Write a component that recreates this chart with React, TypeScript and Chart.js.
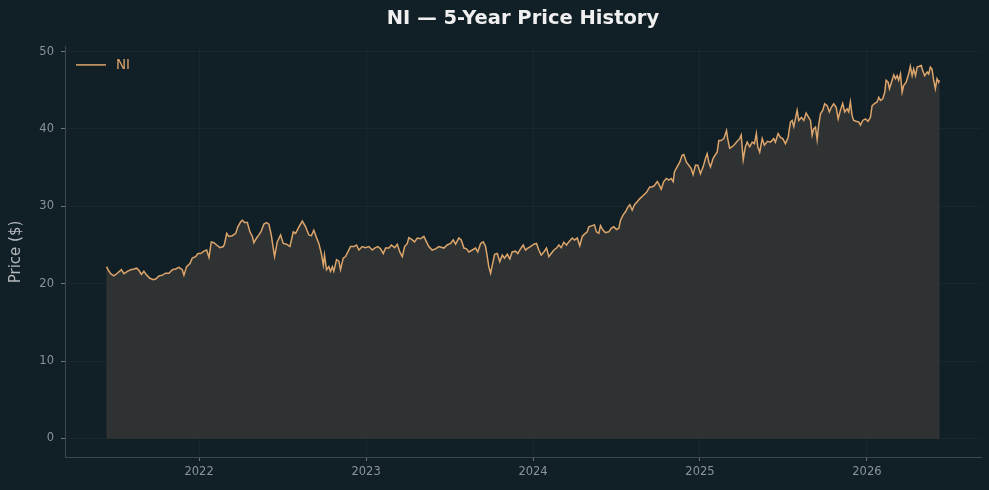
import { useEffect, useRef } from "react";
import { Chart, registerables } from "chart.js";

Chart.register(...registerables);

const TICKER = "NI";
const TITLE = "NI — 5-Year Price History";
const Y_LABEL = "Price ($)";
const YEAR_TICKS = [2022, 2023, 2024, 2025, 2026];
const PRICE_TICKS = [0, 10, 20, 30, 40, 50];

// dates as decimal years
const dates = [
  2021.446, 2021.454, 2021.470, 2021.490, 2021.510, 2021.534, 2021.550, 2021.570, 2021.590, 2021.610,
  2021.626, 2021.640, 2021.654, 2021.669, 2021.686, 2021.705, 2021.726, 2021.740, 2021.759, 2021.780,
  2021.799, 2021.819, 2021.840, 2021.859, 2021.879, 2021.899, 2021.909, 2021.925, 2021.945, 2021.959,
  2021.979, 2021.993, 2022.009, 2022.029, 2022.045, 2022.059, 2022.073, 2022.089, 2022.105, 2022.125,
  2022.145, 2022.153, 2022.165, 2022.178, 2022.199, 2022.219, 2022.232, 2022.249, 2022.259, 2022.272,
  2022.289, 2022.304, 2022.319, 2022.328, 2022.344, 2022.358, 2022.372, 2022.388, 2022.404, 2022.418,
  2022.432, 2022.444, 2022.452,
  2022.468, 2022.488, 2022.504, 2022.524, 2022.544, 2022.564, 2022.578, 2022.598, 2022.618, 2022.638,
  2022.657, 2022.672, 2022.687, 2022.704, 2022.717, 2022.732, 2022.744, 2022.751, 2022.763, 2022.777,
  2022.787, 2022.798, 2022.807, 2022.823, 2022.837, 2022.847, 2022.863, 2022.877, 2022.891, 2022.907,
  2022.927, 2022.943, 2022.957, 2022.977, 2022.997, 2023.017, 2023.037, 2023.051, 2023.071, 2023.087,
  2023.103, 2023.117, 2023.137, 2023.151, 2023.171, 2023.187, 2023.202, 2023.217, 2023.231, 2023.247,
  2023.256, 2023.277, 2023.290, 2023.307, 2023.326, 2023.346, 2023.362, 2023.376, 2023.396, 2023.416,
  2023.436,
  2023.466, 2023.486, 2023.506, 2023.522, 2023.536, 2023.556, 2023.570, 2023.586, 2023.602, 2023.616,
  2023.636, 2023.656, 2023.669, 2023.686, 2023.702, 2023.716, 2023.726, 2023.735, 2023.746, 2023.756,
  2023.770, 2023.786, 2023.801, 2023.816, 2023.829, 2023.846, 2023.861, 2023.875, 2023.895, 2023.909,
  2023.925, 2023.941, 2023.955, 2023.969, 2023.985, 2024.005, 2024.021, 2024.035, 2024.049, 2024.065,
  2024.081, 2024.095, 2024.109, 2024.125, 2024.141, 2024.155, 2024.169, 2024.184, 2024.201, 2024.214,
  2024.235, 2024.249, 2024.265, 2024.280, 2024.295, 2024.308, 2024.325, 2024.334, 2024.354, 2024.368,
  2024.380, 2024.394, 2024.404, 2024.420, 2024.434, 2024.454, 2024.468, 2024.484,
  2024.500, 2024.514, 2024.524, 2024.540, 2024.554, 2024.568, 2024.580, 2024.594, 2024.608, 2024.624,
  2024.640, 2024.660, 2024.680, 2024.699, 2024.714, 2024.728, 2024.744, 2024.753, 2024.768, 2024.783,
  2024.799, 2024.813, 2024.828, 2024.840, 2024.847, 2024.863, 2024.879, 2024.893, 2024.903, 2024.919,
  2024.933, 2024.947, 2024.959, 2024.973, 2024.987, 2025.003, 2025.019, 2025.033, 2025.043, 2025.053,
  2025.063, 2025.079, 2025.093, 2025.103, 2025.113, 2025.127, 2025.143, 2025.159, 2025.166, 2025.178,
  2025.193, 2025.207, 2025.223, 2025.238, 2025.247, 2025.259, 2025.272, 2025.283, 2025.298, 2025.313,
  2025.326, 2025.338, 2025.346, 2025.358, 2025.373, 2025.386, 2025.404, 2025.422, 2025.442, 2025.452,
  2025.468, 2025.482, 2025.496, 2025.512, 2025.528, 2025.542, 2025.552, 2025.562, 2025.576, 2025.582,
  2025.592, 2025.608, 2025.622, 2025.636, 2025.651, 2025.662, 2025.672, 2025.681, 2025.692, 2025.702,
  2025.711, 2025.722, 2025.735, 2025.747, 2025.762, 2025.775, 2025.787, 2025.801, 2025.816, 2025.828,
  2025.841, 2025.855, 2025.867, 2025.881, 2025.891, 2025.901, 2025.911, 2025.921, 2025.935, 2025.951,
  2025.961, 2025.975, 2025.991, 2026.007, 2026.021, 2026.031, 2026.047, 2026.061, 2026.071, 2026.081,
  2026.095, 2026.107, 2026.115, 2026.127, 2026.135, 2026.147, 2026.161, 2026.171, 2026.181, 2026.190,
  2026.201, 2026.211, 2026.220, 2026.235, 2026.250, 2026.260, 2026.271, 2026.280, 2026.291, 2026.301,
  2026.314, 2026.326, 2026.334, 2026.346, 2026.361, 2026.370, 2026.380, 2026.390, 2026.400, 2026.410,
  2026.420, 2026.430, 2026.434,
];

const prices = [
  22.2, 21.8, 21.3, 21.0, 21.35, 21.8, 21.3, 21.6, 21.8, 21.9,
  22.0, 21.7, 21.2, 21.6, 21.1, 20.7, 20.5, 20.6, 21.0, 21.1,
  21.35, 21.35, 21.8, 21.9, 22.1, 21.8, 21.1, 22.2, 22.6, 23.3,
  23.5, 23.9, 23.9, 24.2, 24.35, 23.4, 25.4, 25.3, 25.0, 24.65,
  24.8, 25.2, 26.5, 26.1, 26.2, 26.5, 27.35, 28.0, 28.2, 27.9,
  27.9, 26.7, 26.1, 25.3, 25.9, 26.3, 26.8, 27.7, 27.9, 27.7,
  26.3, 24.6, 23.5,
  25.4, 26.3, 25.2, 25.1, 24.8, 26.7, 26.5, 27.35, 28.1, 27.35,
  26.3, 26.2, 26.9, 25.9, 25.2, 23.9, 22.4, 23.7, 21.8, 22.2,
  21.6, 22.2, 21.6, 23.1, 22.9, 21.8, 23.3, 23.5, 24.1, 24.8,
  24.8, 25.0, 24.35, 24.8, 24.65, 24.8, 24.35, 24.6, 24.8, 24.5,
  23.9, 24.6, 24.6, 25.0, 24.65, 25.1, 24.1, 23.5, 24.8, 25.2,
  25.95, 25.65, 25.4, 25.9, 25.8, 26.1, 25.4, 24.8, 24.35, 24.5,
  24.8,
  24.6, 25.0, 25.2, 25.65, 25.1, 25.9, 25.65, 24.6, 24.5, 24.1,
  24.35, 24.6, 24.1, 25.2, 25.4, 24.8, 23.5, 22.2, 21.35, 22.4,
  23.8, 23.9, 22.85, 23.7, 23.3, 23.8, 23.2, 24.1, 24.2, 23.9,
  24.5, 25.0, 24.35, 24.6, 24.8, 25.1, 25.2, 24.35, 23.7, 24.1,
  24.6, 23.5, 23.9, 24.35, 24.6, 25.0, 24.65, 25.35, 25.0, 25.4,
  25.9, 25.65, 25.9, 24.9, 26.1, 26.4, 26.7, 27.35, 27.5, 27.6,
  26.7, 26.5, 27.5, 26.9, 26.6, 26.7, 27.15, 27.35,
  27.0, 27.15, 28.2, 28.9, 29.3, 29.9, 30.2, 29.5, 30.2, 30.6,
  31.0, 31.4, 31.8, 32.5, 32.5, 32.7, 33.2, 32.9, 32.2, 33.2,
  33.6, 33.4, 33.6, 33.2, 34.45, 35.1, 35.7, 36.6, 36.7, 35.7,
  35.3, 34.9, 34.1, 35.3, 35.3, 34.2, 35.1, 36.2, 36.8, 35.7,
  35.1, 36.2, 36.7, 37.0, 38.5, 38.5, 38.75, 39.8, 38.75, 37.5,
  37.7, 38.0, 38.4, 38.75, 39.2, 36.0, 37.7, 38.3, 37.7, 38.3,
  38.1, 39.4, 37.7, 37.0, 38.75, 37.9, 38.4, 38.3, 38.75, 38.3,
  39.4, 38.9, 38.75, 38.1, 38.9, 40.9, 41.1, 40.3, 41.75, 42.4,
  41.1, 41.5, 41.1, 42.05, 41.5, 41.1, 39.2, 40.0, 40.25, 38.6,
  40.5, 41.95, 42.4, 43.25, 43.0, 42.2, 42.8, 43.25, 42.8, 41.3,
  42.4, 43.3, 42.2, 42.6, 42.2, 43.5, 41.75, 41.1, 41.0, 40.9,
  40.5, 41.1, 41.3, 41.0, 41.5, 43.0, 43.3, 43.5, 44.1, 43.7,
  43.9, 44.75, 46.3, 46.05, 45.2, 46.05, 47.0, 46.5, 46.9, 46.3,
  47.1, 44.75, 45.6, 46.05, 47.1, 48.1, 46.9, 47.75, 46.9, 48.0,
  48.1, 48.2, 47.55, 46.9, 47.35, 47.1, 48.0, 47.75, 46.3, 45.2,
  46.5, 46.05, 46.3,
];

const FONT = "'DejaVu Sans', sans-serif";
const BG = "#111f26";
const LINE = "#dca56b";
const FILL = "#2e3233";
const FILL_EDGE = "rgba(220,165,107,0.09)";
const TICK_LABEL = "#8c9499";
const SPINE = "#3d474c";
const GRID = "rgba(255,255,255,0.035)";
const TICK_MARK = "#6e777b";

export default function App() {
  const ref = useRef<HTMLCanvasElement | null>(null);

  useEffect(() => {
    const canvas = ref.current;
    if (!canvas) return;
    const n = Math.min(dates.length, prices.length);
    const points = Array.from({ length: n }, (_, i) => ({ x: dates[i], y: prices[i] }));
    const xSpan = dates[n - 1] - dates[0];
    const xMin = dates[0] - 0.05 * xSpan;
    const xMax = dates[n - 1] + 0.05 * xSpan;
    const yTop = Math.max(...prices.slice(0, n));
    const yMin = -0.05 * yTop;
    const yMax = yTop * 1.05;

    const fillEdge = {
      id: "fillEdge",
      afterDatasetsDraw(chart: any) {
        const { ctx, scales } = chart;
        const x0 = scales.x.getPixelForValue(dates[0]);
        const x1 = scales.x.getPixelForValue(dates[n - 1]);
        const yz = scales.y.getPixelForValue(0);
        const y0 = scales.y.getPixelForValue(prices[0]);
        const y1 = scales.y.getPixelForValue(prices[n - 1]);
        ctx.save();
        ctx.strokeStyle = FILL_EDGE;
        ctx.lineWidth = 1;
        ctx.beginPath();
        ctx.moveTo(x0, y0);
        ctx.lineTo(x0, yz);
        ctx.lineTo(x1, yz);
        ctx.lineTo(x1, y1);
        ctx.stroke();
        ctx.restore();
      },
    };

    const insideLegend = {
      id: "insideLegend",
      afterDraw(chart: any) {
        const { ctx, chartArea } = chart;
        const y = chartArea.top + 18;
        ctx.save();
        ctx.strokeStyle = LINE;
        ctx.lineWidth = 1.5;
        ctx.beginPath();
        ctx.moveTo(chartArea.left + 11, y);
        ctx.lineTo(chartArea.left + 41, y);
        ctx.stroke();
        ctx.fillStyle = LINE;
        ctx.font = `13.5px ${FONT}`;
        ctx.textBaseline = "middle";
        ctx.textAlign = "left";
        ctx.fillText(TICKER, chartArea.left + 51, y + 1);
        ctx.restore();
      },
    };

    const chart = new Chart(canvas, {
      type: "line",
      data: {
        datasets: [
          {
            label: TICKER,
            data: points,
            borderColor: LINE,
            borderWidth: 1.5,
            backgroundColor: FILL,
            fill: "origin",
            pointRadius: 0,
            tension: 0,
          },
        ],
      },
      options: {
        responsive: false,
        animation: false,
        layout: { padding: { left: 0, right: 8, top: 0, bottom: 0 } },
        plugins: {
          legend: { display: false },
          tooltip: { enabled: false },
          title: {
            display: true,
            text: TITLE,
            color: "#f0f0f0",
            font: { family: FONT, size: 19.5, weight: "bold" },
            padding: { top: 7.5, bottom: 16 },
            fullSize: false,
          },
        },
        scales: {
          x: {
            type: "linear",
            min: xMin,
            max: xMax,
            afterBuildTicks: (s: any) => {
              s.ticks = YEAR_TICKS.map((v) => ({ value: v }));
            },
            afterFit: (s: any) => {
              s.height = 33;
            },
            ticks: {
              callback: (v: any) => String(v),
              color: TICK_LABEL,
              font: { family: FONT, size: 11.5 },
              padding: 4,
              maxRotation: 0,
              autoSkip: false,
            },
            grid: { color: GRID, tickColor: TICK_MARK, tickLength: 4 },
            border: { color: SPINE, width: 1 },
          },
          y: {
            type: "linear",
            min: yMin,
            max: yMax,
            afterBuildTicks: (s: any) => {
              s.ticks = PRICE_TICKS.map((v) => ({ value: v }));
            },
            afterFit: (s: any) => {
              s.width = 65;
            },
            title: {
              display: true,
              text: Y_LABEL,
              color: "#b3b8bb",
              font: { family: FONT, size: 15 },
              padding: { top: 7, bottom: 0 },
            },
            ticks: {
              callback: (v: any) => String(v),
              color: TICK_LABEL,
              font: { family: FONT, size: 11.5 },
              padding: 7,
              autoSkip: false,
            },
            grid: { color: GRID, tickColor: TICK_MARK, tickLength: 4 },
            border: { color: SPINE, width: 1 },
          },
        },
      },
      plugins: [fillEdge, insideLegend],
    } as any);

    return () => chart.destroy();
  }, []);

  return (
    <div
      style={{
        position: "fixed",
        left: 0,
        top: 0,
        width: 989,
        height: 490,
        background: BG,
      }}
    >
      <canvas ref={ref} width={989} height={490} style={{ display: "block" }} />
    </div>
  );
}
